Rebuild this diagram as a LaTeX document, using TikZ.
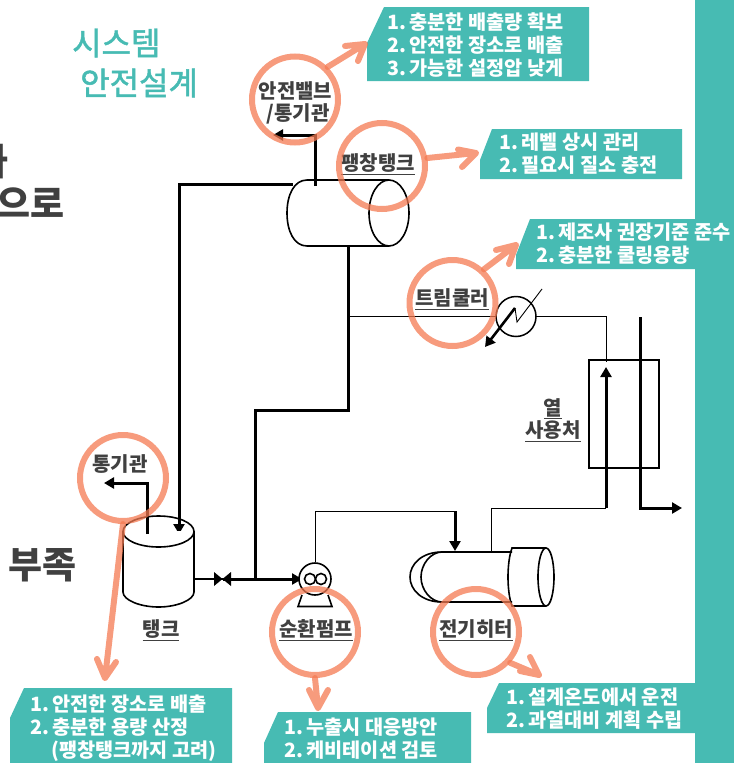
\documentclass[tikz,border=0pt]{standalone}
\usepackage{fontspec}
\setmainfont{Noto Sans CJK KR}
\newfontfamily\titlefont[FakeBold=1.5]{Noto Sans CJK KR}
\usetikzlibrary{arrows.meta,calc}
\definecolor{teal1}{HTML}{47BBB3}
\definecolor{salm}{HTML}{F47A52}
\definecolor{dark}{HTML}{404040}
\newcommand\numdot[1]{#1.\kern-1pt\ }
\tikzset{
  mark circle/.style={draw=salm,line width=6pt,draw opacity=.75,fill=none,circle,minimum size=86pt,inner sep=0pt},
  mark arrow/.style={draw=salm,line width=6pt,draw opacity=.75,line join=round,line cap=round},
  tealbox/.style={fill=teal1,draw=none},
  note/.style={text=white,font=\fontsize{19.7}{22.6}\selectfont\bfseries,align=left,inner sep=0pt},
  lab/.style={text=dark,font=\fontsize{20}{22}\selectfont\bfseries,align=center,inner sep=0pt},
  bigtxt/.style={text=dark,font=\fontsize{37}{44}\selectfont\bfseries,inner sep=0pt},
  title/.style={text=teal1,font=\fontsize{32}{38}\titlefont,inner sep=0pt},
  thick pipe/.style={draw=black,line width=3pt},
  thin pipe/.style={draw=black,line width=1pt},
  vessel/.style={draw=black,line width=1.6pt,fill=white},
  pipe arrow/.style={-{Triangle[length=10pt,width=11pt]}},
}
\begin{document}
\begin{tikzpicture}[x=1pt,y=-1pt]
\useasboundingbox (0,0) rectangle (734,763);
% right bar and note panels
\fill[tealbox] (695,0) rectangle (734,763);
\fill[tealbox] (384,7) -- (589,7) -- (589,81) -- (367,81) -- (367,43) -- cycle;
\fill[tealbox] (492,129) -- (682,129) -- (682,179) -- (480,179) -- (480,160) -- cycle;
\fill[tealbox] (530,219) -- (695,219) -- (695,269) -- (516,269) -- (516,255) -- cycle;
\fill[tealbox] (24,688) -- (232,688) -- (232,763) -- (10,763) -- (10,718) -- cycle;
\fill[tealbox] (278,712) -- (471,712) -- (471,763) -- (264,763) -- (264,743) -- cycle;
\fill[tealbox] (499,683) -- (695,683) -- (695,733) -- (487,733) -- (487,708) -- cycle;
% titles
\node[title,anchor=west] (t1) at (72,43) {시스템};
\node[title,anchor=west] (t2) at (80,83) {안전설계};
\node[bigtxt,anchor=east] (t3) at (9,162) {가};
\node[bigtxt,anchor=east] (t4) at (65,203) {으로};
\node[bigtxt,anchor=west] (t5) at (8,565) {부족};
% notes
\node[note,anchor=north west] (n1) at (387,13) {\numdot1충분한 배출량 확보\\\numdot2안전한 장소로 배출\\\numdot3가능한 설정압 낮게};
\node[note,anchor=north west] (n2) at (499,133) {\numdot1레벨 상시 관리\\\numdot2필요시 질소 충전};
\node[note,anchor=north west] (n3) at (536,223) {\numdot1제조사 권장기준 준수\\\numdot2충분한 쿨링용량};
\node[note,anchor=north west] (n4) at (30,695) {\numdot1안전한 장소로 배출\\\numdot2충분한 용량 산정\\\hspace*{21pt}(팽창탱크까지 고려)};
\node[note,anchor=north west] (n5) at (284,718) {\numdot1누출시 대응방안\\\numdot2케비테이션 검토};
\node[note,anchor=north west] (n6) at (506,688) {\numdot1설계온도에서 운전\\\numdot2과열대비 계획 수립};
% coordinates
\coordinate (ftL) at (307,180); \coordinate (ftR) at (389,180);
\coordinate (ftLb) at (307,246); \coordinate (ftRb) at (389,246);
% expansion tank
\draw[vessel] (ftR) -- (ftL) .. controls (294,180) and (287,195) .. (287,213) .. controls (287,231) and (294,246) .. (ftLb) -- (ftRb);
\draw[vessel,fill=none] (389,213) ellipse [x radius=20,y radius=33];
\coordinate (a) at (315,186); \coordinate (a1) at (315,135); \coordinate (a2) at (273,135);
\draw[thick pipe,pipe arrow] (a) -- (a1) -- (a2);
\coordinate (b) at (293,184); \coordinate (b1) at (179,184); \coordinate (b2) at (179,534);
\draw[thick pipe,pipe arrow] (b) -- (b1) -- (b2);
% storage tank
\draw[vessel] (123,531) -- (123,592) .. controls (123,600) and (140,607) .. (158.5,607) .. controls (177,607) and (194,600) .. (194,592) -- (194,531);
\draw[vessel,fill=none] (158.5,531.5) ellipse [x radius=35.5,y radius=15.5];
\coordinate (c) at (147,534); \coordinate (c1) at (147,483); \coordinate (c2) at (104,483);
\draw[thick pipe,pipe arrow] (c) -- (c1) -- (c2);
% line from expansion tank to suction
\coordinate (d) at (348,246); \coordinate (d1) at (348,410); \coordinate (d2) at (255.5,410); \coordinate (d3) at (255.5,579);
\draw[thick pipe] (d) -- (d1) -- (d2) -- (d3);
% suction with valve
\coordinate (e) at (194,579); \coordinate (e1) at (222.5,579); \coordinate (e2) at (302,579);
\draw[draw=black,line width=1.8pt] (e) -- (e1);
\fill (214,572) -- (222.5,579) -- (214,586) -- cycle;
\fill (231,572) -- (222.5,579) -- (231,586) -- cycle;
\draw[thick pipe,pipe arrow] (e1) -- (e2);
% pump
\draw[vessel,fill=none] (302,595) -- (298,606.5) -- (332,606.5) -- (328,595);
\node[vessel,circle,minimum size=32pt,inner sep=0pt] (pump) at (315,579) {};
\node[vessel,circle,minimum size=11pt,inner sep=0pt] (im1) at (310,579) {};
\node[vessel,circle,minimum size=11pt,inner sep=0pt] (im2) at (321,579) {};
% discharge
\coordinate (f) at (315,511); \coordinate (f1) at (455,511); \coordinate (f2) at (455,551);
\draw[thin pipe] (pump.north) -- (f) -- (f1);
\draw[thick pipe,pipe arrow] (f1) -- (f2);
% heater
\draw[vessel,fill=none] (442,552) .. controls (422,552) and (410,564) .. (410,577) .. controls (410,590) and (422,602) .. (442,602);
\draw[vessel,fill=none] (512,552) -- (442,552) .. controls (431,552) and (421,564) .. (421,577) .. controls (421,590) and (431,602) .. (442,602) -- (512,602);
\draw[vessel,fill=none] (546,548) -- (512,548) .. controls (509,556) and (508,568) .. (508,577) .. controls (508,586) and (509,598) .. (512,606) -- (546,606);
\draw[vessel,fill=none] (546,577) ellipse [x radius=8,y radius=29];
% heat user
\node[draw=black,line width=1.6pt,minimum width=70pt,minimum height=108pt,inner sep=0pt] (user) at (624,414) {};
\coordinate (g) at (491,552); \coordinate (g1) at (491,508); \coordinate (g2) at (606,508); \coordinate (g3) at (606,367);
\draw[thin pipe] (g) -- (g1) -- (g2);
\draw[thick pipe,pipe arrow] (g2) -- (g3);
\coordinate (h) at (640,317); \coordinate (h1) at (640,508); \coordinate (h2) at (682,508);
\draw[thick pipe,pipe arrow] (h) -- (h1) -- (h2);
% trim cooler line
\coordinate (i) at (348,316.5); \coordinate (i1) at (606,316.5); \coordinate (i2) at (606,362);
\draw[thin pipe] (i) -- (i1) -- (i2);
\node[draw=black,line width=1.5pt,fill=white,circle,minimum size=40pt,inner sep=0pt] (cool) at (516,316.5) {};
\coordinate (j) at (515,308); \coordinate (j1) at (517,322); \coordinate (j2) at (542,289); \coordinate (j3) at (485,347);
\draw[line width=.9pt] (j) -- (j1) -- (j2);
\draw[draw=black,line width=2.6pt,pipe arrow] (j) -- (j3);
% labels
\node[lab] (l1) at (295.5,103) {안전밸브\\\hspace*{5pt}/통기관};
\node[lab] (l2) at (378,164) {\underline{팽창탱크}};
\node[lab] (l3) at (452,299) {\underline{트림쿨러}};
\node[lab] (l4) at (120,464) {통기관};
\node[lab] (l5) at (161,630) {\underline{탱크}};
\node[lab] (l6) at (316,630) {\underline{순환펌프}};
\node[lab] (l7) at (476,630) {\underline{전기히터}};
\node[lab] (l8) at (553,420) {\underline{열}\\\underline{사용처}};
% circles
\node[mark circle] (c1m) at (295,99.5) {};
\node[mark circle] (c2m) at (382,166) {};
\node[mark circle] (c3m) at (452.5,303) {};
\node[mark circle] (c4m) at (123,478) {};
\node[mark circle] (c5m) at (315,632) {};
\node[mark circle] (c6m) at (476,632) {};
% callout arrows
\coordinate (k1) at (365,44);
\draw[mark arrow] (c1m.45) -- (k1) (345,46) -- (k1) -- (358,61);
\coordinate (k2) at (476,153);
\draw[mark arrow] (c2m.10) -- (k2) (458,149.5) -- (k2) -- (462,167);
\coordinate (k3) at (516,245);
\draw[mark arrow] (c3m.47) -- (k3) (496,250) -- (k3) -- (509,264);
\coordinate (k4) at (105,678);
\draw[mark arrow] (c4m.south) -- (k4) (97,659) -- (k4) -- (116,662);
\coordinate (k5) at (318,708);
\draw[mark arrow] (c5m.south) -- (k5) (309,690) -- (k5) -- (328,690);
\coordinate (k6) at (539,675);
\draw[mark arrow] (c6m.-42) -- (k6) (530,657) -- (k6) -- (520,671);
\end{tikzpicture}
\end{document}
